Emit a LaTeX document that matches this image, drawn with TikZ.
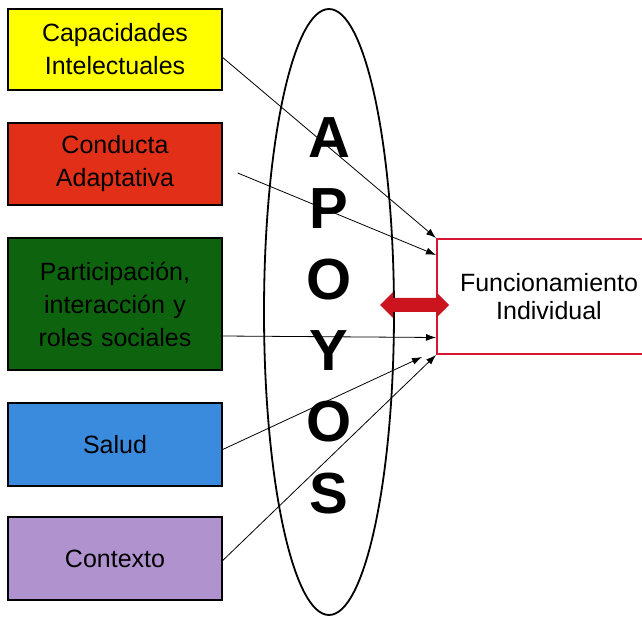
\documentclass[tikz,border=0pt]{standalone}
\usepackage{fontspec}
\setmainfont{Liberation Sans}
\usepackage{tikz}
\usetikzlibrary{arrows.meta, calc, positioning, shapes.geometric}
\definecolor{boxyellow}{RGB}{255,255,0}
\definecolor{boxred}{RGB}{226,48,24}
\definecolor{boxgreen}{RGB}{14,100,14}
\definecolor{boxblue}{RGB}{58,138,222}
\definecolor{boxpurple}{RGB}{176,146,206}
\definecolor{funcred}{RGB}{214,22,52}
\definecolor{linkred}{RGB}{204,20,30}

\begin{document}
\begin{tikzpicture}[x=1pt, y=-1pt, >={Latex[length=10pt,width=7pt]},
    dimbox/.style={draw=black, line width=1.4pt, minimum width=214pt, text width=208pt, align=center, inner sep=0pt, font=\fontsize{25}{33}\selectfont},
    link/.style={->, line width=0.8pt}]
    \useasboundingbox (0,0) rectangle (642,617);
    \clip (0,0) rectangle (642,617);

    % Dimension boxes
    \node[dimbox, fill=boxyellow, minimum height=81pt] (cap) at (115,49.5) {Capacidades\\Intelectuales};
    \node[dimbox, fill=boxred, minimum height=82pt] (cond) at (115,164) {Conducta\\Adaptativa};
    \node[dimbox, fill=boxgreen, minimum height=132pt] (part) at (115,304) {Participación,\\interacción y\\roles sociales};
    \node[dimbox, fill=boxblue, minimum height=83pt] (salud) at (115,444.5) {Salud};
    \node[dimbox, fill=boxpurple, minimum height=83pt] (ctx) at (115,558.5) {Contexto};

    % Supports ellipse
    \node[draw, ellipse, line width=1.8pt, minimum width=130pt, minimum height=606pt, inner sep=0pt] (apoyos) at (329,312) {};
    \foreach \letra/\y in {A/138, P/209, O/280, Y/351, O/422, S/494}
        \node[font=\fontsize{58}{58}\selectfont\bfseries, inner sep=0pt] at (329,\y) {\letra};

    % Individual functioning
    \node[draw=funcred, line width=2pt, minimum width=224pt, minimum height=115pt, text width=200pt, align=center, font=\fontsize{25}{28}\selectfont, anchor=north west] (fun) at (436,238) {Funcionamiento\\Individual};

    % Connectors
    \draw[link] ($(cap.east)+(0,8)$) -- (fun.north west);
    \draw[link] ($(cond.east)+(15,9)$) -- ($(fun.north west)+(0,17)$);
    \draw[link] ($(part.east)+(0,32)$) -- ($(fun.west)+(0,41)$);
    \draw[link] ($(salud.east)+(0,5)$) -- ($(fun.south west)+(-14,2)$);
    \draw[link] ($(ctx.east)+(0,2)$) -- (fun.south west);

    % Two-way link
    \fill[linkred] (380,305) -- (393,292) -- (393,298) -- (436,298) -- (436,292) -- (449,305)
        -- (436,318) -- (436,312) -- (393,312) -- (393,318) -- cycle;
\end{tikzpicture}
\end{document}
